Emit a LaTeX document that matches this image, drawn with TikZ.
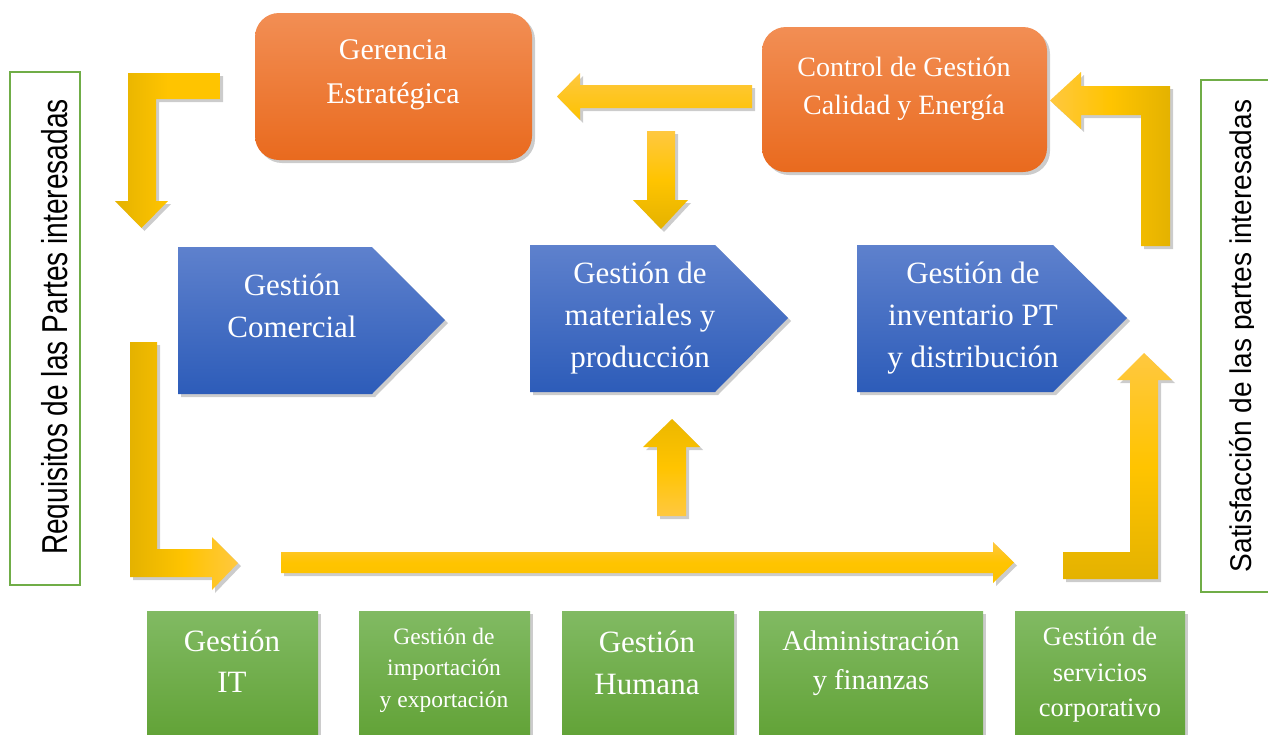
\documentclass[tikz,border=0pt]{standalone}
\usepackage{fontspec}
\setmainfont{Liberation Serif}
\newfontfamily\sidefnt{Liberation Sans}
\usetikzlibrary{shadows}
\definecolor{orT}{RGB}{242,142,84}
\definecolor{orB}{RGB}{233,106,30}
\definecolor{blT}{RGB}{94,129,205}
\definecolor{blB}{RGB}{45,92,185}
\definecolor{grT}{RGB}{129,186,99}
\definecolor{grB}{RGB}{96,161,52}
\definecolor{gold}{RGB}{228,178,0}
\definecolor{yel}{RGB}{255,196,0}
\definecolor{lyel}{RGB}{255,200,64}
\definecolor{frameg}{RGB}{112,173,71}
\tikzset{
  shad/.style={drop shadow={shadow xshift=3pt,shadow yshift=-3pt,opacity=0.2,fill=black}},
  orangebox/.style={rectangle, rounded corners=24pt, top color=orT, bottom color=orB, shad, inner sep=0pt},
  greenbox/.style={rectangle, top color=grT, bottom color=grB, shad, inner sep=0pt},
  bluebox/.style={top color=blT, bottom color=blB, shad},
  framebox/.style={rectangle, draw=frameg, line width=2pt, inner sep=0pt},
  wtext/.style={text=white, align=center, inner sep=0pt},
  bigfont/.style={font=\fontsize{31}{42}\selectfont},
  yarrow/.style={shad},
}
\begin{document}
\begin{tikzpicture}[x=1pt,y=-1pt]
\useasboundingbox (0,0) rectangle (1268,734);
\fill[white] (0,0) rectangle (1268,734);

% side frames
\node[framebox, minimum width=70pt, minimum height=513pt] (lframe) at (45,328.5) {};
\node[framebox, minimum width=71pt, minimum height=512pt] (rframe) at (1236.5,336) {};
\begin{scope}
  \clip (0,0) rectangle (68,734);
  \node[rotate=90, xscale=0.78, anchor=base, inner sep=0pt, font=\sidefnt\fontsize{36}{40}\selectfont] (ltxt) at (67,327) {Requisitos de las Partes interesadas};
\end{scope}
\begin{scope}
  \clip (1180,0) rectangle (1253,734);
  \node[rotate=90, xscale=0.935, anchor=base, inner sep=0pt, font=\sidefnt\fontsize{30}{34}\selectfont] (rtxt) at (1251,336) {Satisfacción de las partes interesadas};
\end{scope}

% orange boxes
\node[orangebox, minimum width=277pt, minimum height=147pt] (ger) at (393.5,86.5) {};
\node[wtext, font=\fontsize{30}{44}\selectfont] (gert) at (393,75) {Gerencia\\Estratégica};
\node[orangebox, minimum width=285pt, minimum height=145pt] (ctl) at (904.5,99.5) {};
\node[wtext, font=\fontsize{28}{38}\selectfont] (ctlt) at (904,89) {Control de Gestión\\Calidad y Energía};

% blue pentagons
\path[bluebox] (178,247) -- (372,247) -- (445,320) -- (372,394) -- (178,394) -- cycle;
\node[wtext, bigfont] (com) at (292,306) {Gestión\\Comercial};
\path[bluebox] (530,245) -- (715,245) -- (788,318) -- (715,392) -- (530,392) -- cycle;
\node[wtext, bigfont] (mat) at (640,318) {Gestión de\\materiales y\\producción};
\path[bluebox] (857,245) -- (1053,245) -- (1127,318) -- (1053,392) -- (857,392) -- cycle;
\node[wtext, bigfont] (inv) at (973,318) {Gestión de\\inventario PT\\y distribución};

% green boxes
\node[greenbox, minimum width=171pt, minimum height=134pt] (git) at (232.5,678) {};
\node[wtext, font=\fontsize{31}{41}\selectfont] (gitt) at (232,661) {Gestión\\IT};
\node[greenbox, minimum width=171pt, minimum height=134pt] (gimp) at (444.5,678) {};
\node[wtext, font=\fontsize{23.5}{31.5}\selectfont] (gimpt) at (444,670) {Gestión de\\importación\\y exportación};
\node[greenbox, minimum width=172pt, minimum height=134pt] (ghum) at (648,678) {};
\node[wtext, font=\fontsize{31}{42}\selectfont] (ghumt) at (647,663) {Gestión\\Humana};
\node[greenbox, minimum width=224pt, minimum height=134pt] (gadm) at (871,678) {};
\node[wtext, font=\fontsize{28.5}{39}\selectfont] (gadmt) at (871,663) {Administración\\y finanzas};
\node[greenbox, minimum width=170pt, minimum height=134pt] (gser) at (1100,678) {};
\node[wtext, font=\fontsize{26.5}{35.5}\selectfont] (gsert) at (1100,675) {Gestión de\\servicios\\corporativo};

% yellow block arrows
\path[yarrow, left color=gold, right color=yel, middle color=yel]
  (220,73) -- (128,73) -- (128,201) -- (115,201) -- (141.5,228) -- (168,201) -- (156,201) -- (156,99) -- (220,99) -- cycle;
\path[yarrow, top color=lyel, bottom color=yel!90!gold]
  (752,85) -- (580,85) -- (580,73) -- (557,96.5) -- (580,120) -- (580,108) -- (752,108) -- cycle;
\path[yarrow, top color=lyel, bottom color=gold, middle color=yel]
  (647,131) -- (675,131) -- (675,200) -- (688,200) -- (661,229) -- (633,200) -- (647,200) -- cycle;
\path[yarrow, left color=lyel, right color=gold, middle color=yel]
  (1141,246) -- (1141,115) -- (1081,115) -- (1081,129) -- (1050,100.5) -- (1081,72) -- (1081,86) -- (1170,86) -- (1170,246) -- cycle;
\path[yarrow, left color=gold, right color=lyel, middle color=yel]
  (130,342) -- (157,342) -- (157,549) -- (212,549) -- (212,537) -- (238,563) -- (212,590) -- (212,577) -- (130,577) -- cycle;
\path[yarrow, top color=lyel, bottom color=yel!85!gold, middle color=yel]
  (281,552) -- (993,552) -- (993,542) -- (1014,562.5) -- (993,583) -- (993,573) -- (281,573) -- cycle;
\path[yarrow, top color=gold!70!yel, bottom color=lyel, middle color=yel]
  (657,516) -- (657,447) -- (643,447) -- (672,419) -- (700,447) -- (686,447) -- (686,516) -- cycle;
\path[yarrow, top color=lyel, bottom color=gold, middle color=yel]
  (1063,552) -- (1130,552) -- (1130,380) -- (1117,380) -- (1144,353) -- (1172,380) -- (1158,380) -- (1158,579) -- (1063,579) -- cycle;
\end{tikzpicture}
\end{document}
